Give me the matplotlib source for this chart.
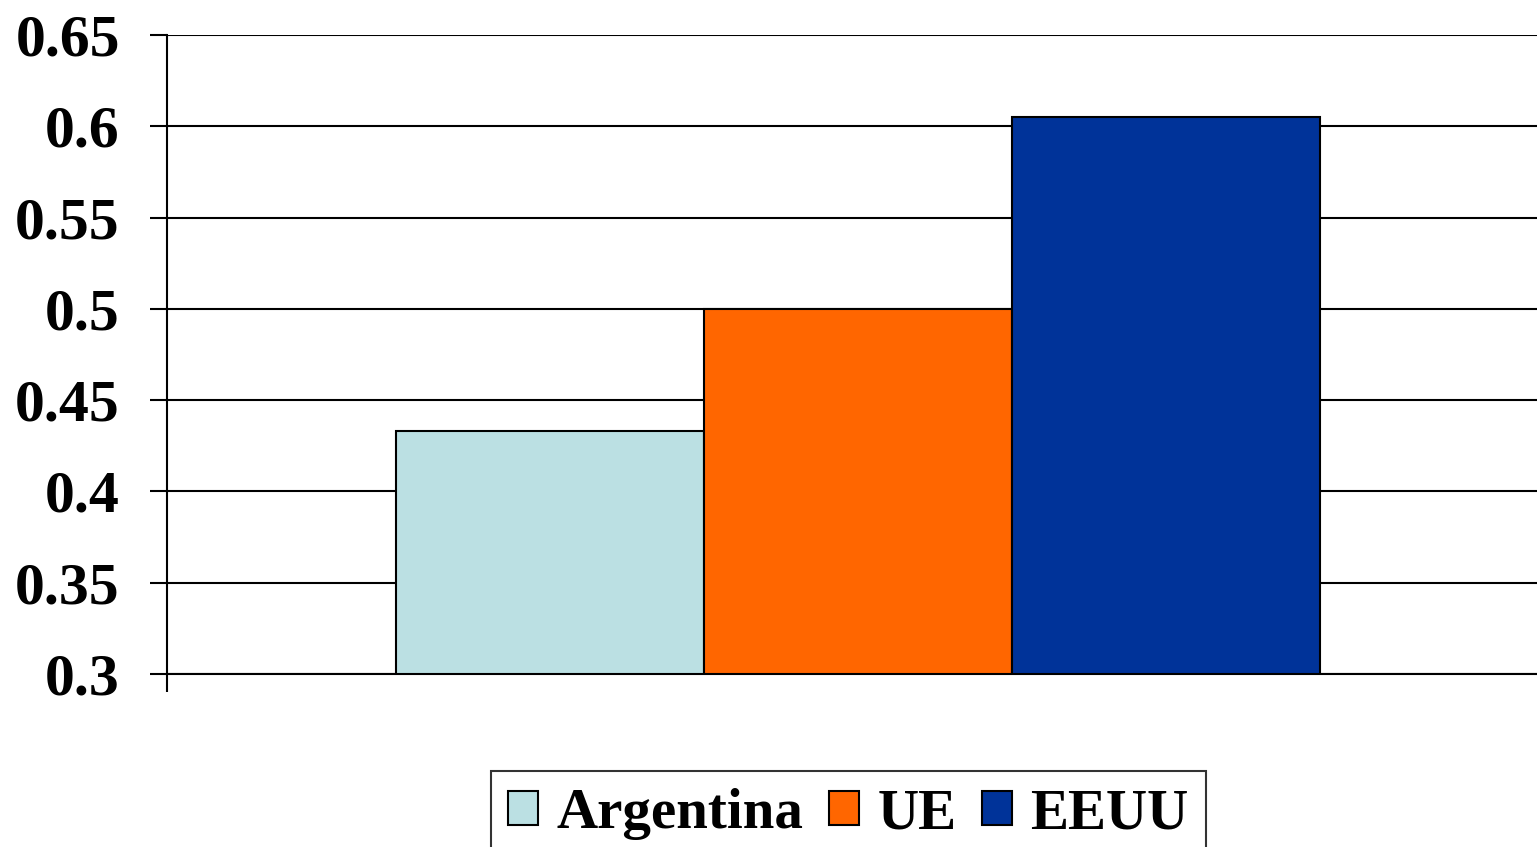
import matplotlib
matplotlib.use("Agg")
import matplotlib.pyplot as plt
from matplotlib.patches import Patch

categories = ["Argentina", "UE", "EEUU"]
values = [0.433, 0.500, 0.605]
colors = ["#BBE0E3", "#FF6600", "#003399"]
yticks = [0.3, 0.35, 0.4, 0.45, 0.5, 0.55, 0.6, 0.65]
ytick_labels = ["0.3", "0.35", "0.4", "0.45", "0.5", "0.55", "0.6", "0.65"]

plt.rcParams['font.family'] = ['Liberation Serif', 'DejaVu Serif']
plt.rcParams['font.weight'] = 'bold'

W, H = 1537, 847
fig = plt.figure(figsize=(W / 100, H / 100), dpi=100)
ax = fig.add_axes([167 / W, 1 - 674 / H, (1537 - 167) / W, (674 - 35) / H])

positions = [-1, 0, 1]
for p, v, c in zip(positions, values, colors):
    ax.bar(p, v - 0.3, bottom=0.3, width=1.0, color=c, edgecolor="black", linewidth=1.5, zorder=3)

ax.set_ylim(0.3, 0.65)
ax.set_xlim(-2.242, 2.206)
ax.set_yticks(yticks)
ax.set_yticklabels(ytick_labels, fontsize=43, fontweight='bold')
ax.yaxis.grid(True, color="black", linewidth=1.5, zorder=1)
ax.set_axisbelow(True)

ax.set_xticks([-2.242])
ax.set_xticklabels([""])
ax.tick_params(axis='x', direction='out', length=13, width=1.5, color='black')
ax.tick_params(axis='y', direction='out', length=12, width=1.5, color='black', pad=22)

for s in ["top", "right"]:
    ax.spines[s].set_visible(False)
ax.spines["left"].set_linewidth(1.5)
ax.spines["bottom"].set_linewidth(1.5)

handles = [Patch(facecolor=c, edgecolor="black", linewidth=1.5) for c in colors]
leg = fig.legend(handles, categories, loc="upper left",
                 bbox_to_anchor=(491 / W, 1 - 771 / H),
                 ncol=3, frameon=True, fancybox=False, edgecolor="black",
                 prop={'family': ['Liberation Serif', 'DejaVu Serif'], 'weight': 'bold', 'size': 41},
                 handlelength=0.53, handleheight=0.54, handletextpad=0.32,
                 columnspacing=0.45, borderpad=0.3, borderaxespad=0)
leg.get_frame().set_linewidth(1.5)

fig.savefig("out.png", dpi=100, facecolor="white")
